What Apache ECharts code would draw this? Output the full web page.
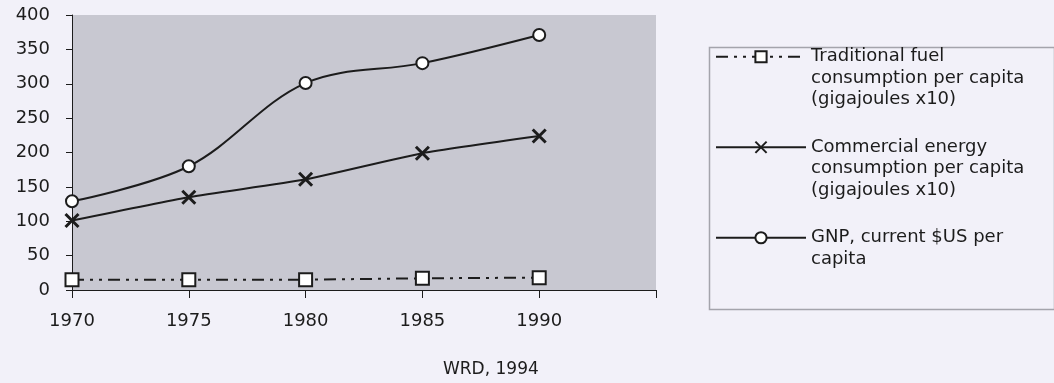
<!DOCTYPE html>
<html>
<head>
<meta charset="utf-8">
<script src="https://cdn.jsdelivr.net/npm/echarts@6/dist/echarts.min.js"></script>
<style>
  html, body { margin: 0; padding: 0; background: #f2f1f9; }
  #chart { width: 1054px; height: 383px; }
</style>
</head>
<body>
<div id="chart"></div>
<script>
// Years on the category axis; the trailing empty slot carries the closing tick.
const years = ['1970', '1975', '1980', '1985', '1990', ''];

// Series values
const traditionalFuel = [15, 15, 15, 17, 18];
const commercialEnergy = [101, 135, 161, 199, 224];
const gnpPerCapita = [129, 180, 301, 330, 371];

// Value axis range
const yMin = 0;
const yMax = 400;
const yStep = 50;

const seriesNames = [
  'Traditional fuel consumption per capita (gigajoules x10)',
  'Commercial energy consumption per capita (gigajoules x10)',
  'GNP, current $US per capita'
];
const legendLines = [
  ['Traditional fuel', 'consumption per capita', '(gigajoules x10)'],
  ['Commercial energy', 'consumption per capita', '(gigajoules x10)'],
  ['GNP, current $US per', 'capita']
];
const sourceNote = 'WRD, 1994';

const FONT = 'DejaVu Sans';
const INK = '#1c1c1c';

// Legend text: pad so the first line sits level with the icon.
function legendText(name) {
  const lines = legendLines[seriesNames.indexOf(name)];
  let s = '\n\n' + lines.join('\n');
  for (let i = lines.length; i < 3; i++) s += '\n';
  return s;
}

const chart = echarts.init(document.getElementById('chart'), null, { renderer: 'canvas' });

chart.setOption({
  backgroundColor: '#f2f1f9',
  animation: false,
  title: {
    text: sourceNote,
    left: 438,
    top: 356,
    textStyle: { fontFamily: FONT, fontSize: 17, fontWeight: 'normal', color: INK }
  },
  grid: {
    left: 72,
    right: 398,
    top: 15,
    bottom: 93,
    show: true,
    backgroundColor: '#c8c8d1',
    borderWidth: 0
  },
  xAxis: {
    type: 'category',
    data: years,
    boundaryGap: false,
    axisLine: { lineStyle: { color: INK, width: 1 } },
    axisTick: { show: true, length: 8, interval: 0, lineStyle: { color: INK } },
    axisLabel: { margin: 22, fontFamily: FONT, fontSize: 18, color: INK, interval: 0 },
    splitLine: { show: false }
  },
  yAxis: {
    type: 'value',
    min: yMin,
    max: yMax,
    interval: yStep,
    axisLine: { show: true, lineStyle: { color: INK, width: 1 } },
    axisTick: { show: true, length: 6, lineStyle: { color: INK } },
    axisLabel: { margin: 22, fontFamily: FONT, fontSize: 18, color: INK },
    splitLine: { show: false }
  },
  legend: {
    orient: 'vertical',
    left: 715,
    top: 3,
    padding: 0,
    itemGap: -17,
    itemWidth: 90,
    itemHeight: 14,
    data: seriesNames,
    formatter: legendText,
    textStyle: { fontFamily: FONT, fontSize: 18, lineHeight: 21.5, color: INK }
  },
  graphic: [{
    type: 'rect',
    left: 707,
    top: 45,
    shape: { width: 345, height: 262 },
    style: { fill: 'none', stroke: '#a4a4ac', lineWidth: 1.5 },
    silent: true
  }],
  series: [
    {
      name: seriesNames[0],
      type: 'line',
      data: traditionalFuel,
      symbol: 'emptyRect',
      symbolSize: 13,
      lineStyle: { color: INK, width: 2, type: [12, 6, 3, 6, 3, 6] },
      itemStyle: { color: INK, borderColor: INK, borderWidth: 2 }
    },
    {
      name: seriesNames[1],
      type: 'line',
      data: commercialEnergy,
      smooth: 0.2,
      symbol: 'path://M0,0L10,10M10,0L0,10',
      symbolSize: 13,
      lineStyle: { color: INK, width: 2 },
      itemStyle: { color: INK, borderColor: INK, borderWidth: 3 }
    },
    {
      name: seriesNames[2],
      type: 'line',
      data: gnpPerCapita,
      smooth: 0.35,
      symbol: 'emptyCircle',
      symbolSize: 12,
      lineStyle: { color: INK, width: 2 },
      itemStyle: { color: INK, borderColor: INK, borderWidth: 2 }
    }
  ]
});
</script>
</body>
</html>
